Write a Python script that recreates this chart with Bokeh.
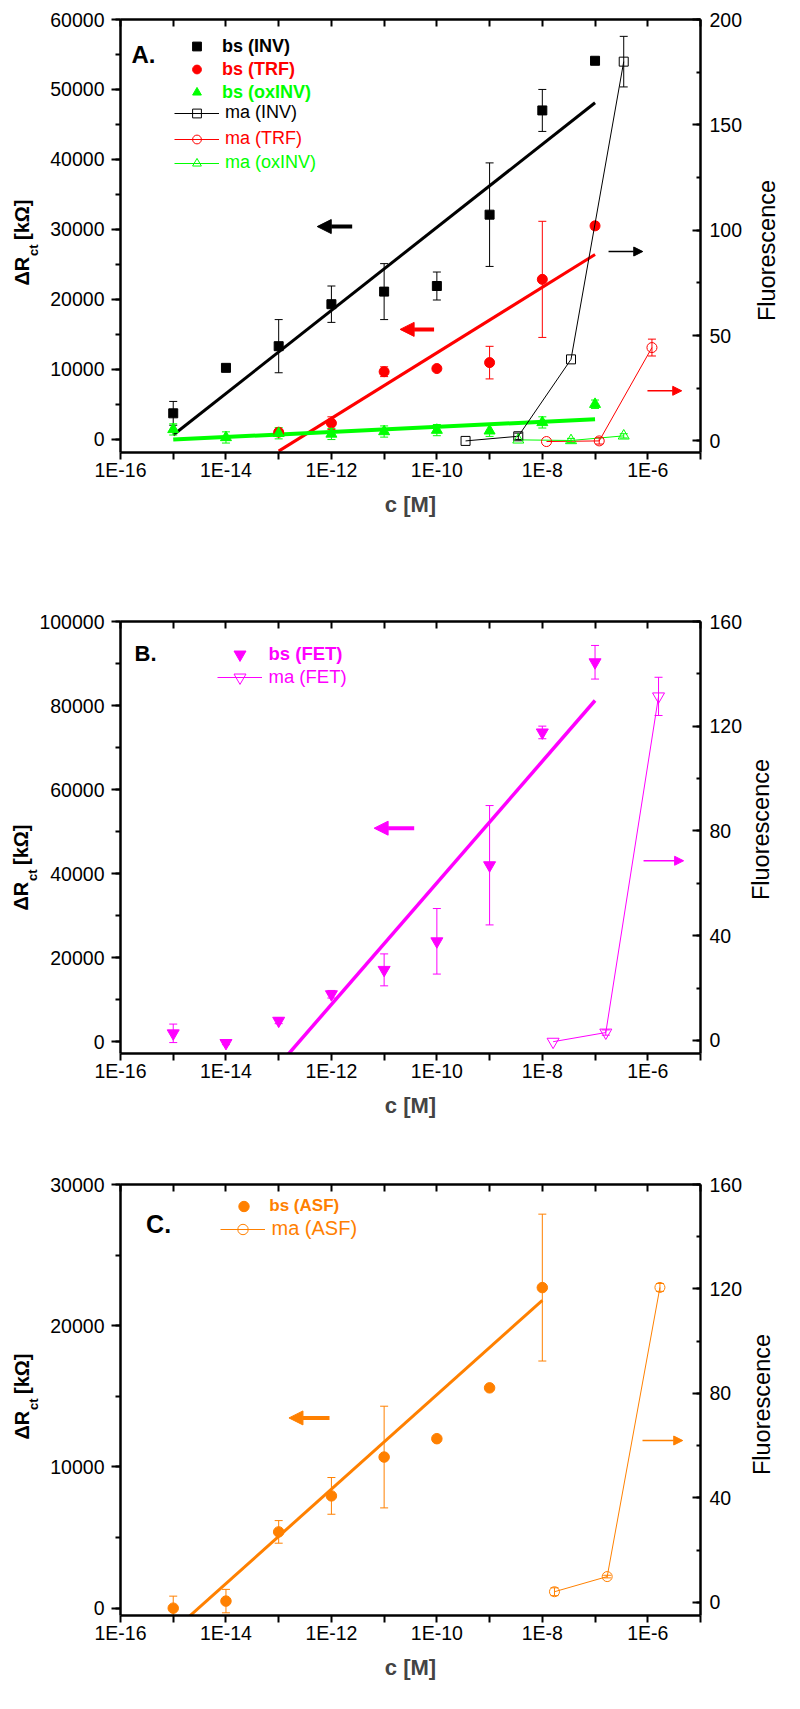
import math
from bokeh.plotting import figure
from bokeh.models import (Range1d, LinearAxis, LogAxis, FixedTicker, SingleIntervalTicker,
                          CustomJSTickFormatter, BasicTickFormatter, Label, Title, Legend,
                          LegendItem, Arrow, NormalHead)
from bokeh.layouts import column, row
from bokeh.embed import file_html
from bokeh.resources import INLINE

FONT = "Liberation Sans"
BLACK, RED, GREEN, MAGENTA, ORANGE = "#000000", "#ff0000", "#00ff00", "#ff00ff", "#ff8000"

# ---------------- data: panel A ----------------
conc_bs = [1e-15, 1e-14, 1e-13, 1e-12, 1e-11, 1e-10, 1e-9, 1e-8, 1e-7]
inv_bs = [3700, 10200, 13300, 19300, 21100, 21900, 32100, 47000, 54100]
inv_err = [1700, 0, 3800, 2600, 4000, 2000, 7400, 3000, 0]
conc_trf = [1e-13, 1e-12, 1e-11, 1e-10, 1e-9, 1e-8, 1e-7]
trf_bs = [1000, 2300, 9650, 10100, 10950, 22850, 30500]
trf_err = [400, 900, 700, 0, 2330, 8300, 500]
oxinv_bs = [1400, 250, 850, 750, 1100, 1300, 1200, 2400, 5000]
oxinv_err = [800, 800, 800, 800, 800, 800, 800, 800, 600]
fit_inv_conc = [1e-15, 1e-7]
fit_inv = [600, 48100]
fit_trf_conc = [1e-13, 1e-7]
fit_trf = [-1700, 26400]
fit_ox_conc = [1e-15, 1e-7]
fit_ox = [-50, 2860]
ma_inv_conc = [3.5e-10, 3.5e-9, 3.5e-8, 3.5e-7]
ma_inv = [0, 2.2, 38.7, 180]
ma_inv_err = [0, 1.5, 0, 12]
ma_trf_conc = [1.2e-8, 1.2e-7, 1.2e-6]
ma_trf = [-0.3, 0, 44.3]
ma_trf_err = [0, 1.5, 4]
ma_ox_conc = [3.5e-9, 3.5e-8, 3.5e-7]
ma_ox = [0.5, 0.2, 2.4]
ma_ox_err = [0, 1, 1]

# ---------------- data: panel B ----------------
fet_bs = [2000, -300, 5000, 11300, 17100, 23900, 42000, 73600, 90300]
fet_err = [2200, 400, 700, 900, 3800, 7800, 14200, 1500, 4000]
fit_fet_conc = [1e-13, 1e-7]
fit_fet = [-5600, 81200]
ma_fet_conc = [1.6e-8, 1.6e-7, 1.6e-6]
ma_fet = [-0.5, 3.0, 131.4]
ma_fet_err = [0, 1, 7.3]

# ---------------- data: panel C ----------------
conc_asf = [1e-15, 1e-14, 1e-13, 1e-12, 1e-11, 1e-10, 1e-9, 1e-8]
asf_bs = [0, 500, 5400, 7950, 10700, 12000, 15600, 22700]
asf_err = [850, 830, 800, 1300, 3600, 0, 0, 5200]
fit_asf_conc = [1e-15, 1e-8]
fit_asf = [-1600, 21800]
ma_asf_conc = [1.7e-8, 1.7e-7, 1.7e-6]
ma_asf = [4.1, 9.9, 120.6]
ma_asf_err = [1.5, 0.5, 1.5]

x_ticks = [10.0 ** e for e in range(-16, -4)]

FRAME_LEFT = 128
FW = 580
RB = 42                      # right border of the main figures
SIDE_W = 784 - (FRAME_LEFT - 8) - FW - RB   # width of the strip holding "Fluorescence"
SIDE_LEFT = 8 + (FRAME_LEFT - 8) + FW + RB


def errbars(p, xs, ys, es, color, rn=None):
    pts = [(x, y, e) for x, y, e in zip(xs, ys, es) if e > 0]
    if not pts:
        return
    kw = {"y_range_name": rn} if rn else {}
    x = [q[0] for q in pts]
    lo = [q[1] - q[2] for q in pts]
    hi = [q[1] + q[2] for q in pts]
    p.segment(x0=x, y0=lo, x1=x, y1=hi, line_color=color, line_width=1, **kw)
    p.scatter(x=x + x, y=lo + hi, marker="dash", size=8, line_color=color, line_width=1, **kw)


def make_panel(fig_top, frame_top, frame_h, fig_bottom, yl, yr, yl_int, yr_int):
    p = figure(frame_width=FW, frame_height=frame_h, x_axis_type="log",
               x_range=Range1d(1e-16, 1e-5), y_range=Range1d(*yl),
               min_border_left=FRAME_LEFT - 8, min_border_right=RB,
               min_border_top=frame_top - fig_top,
               min_border_bottom=fig_bottom - (frame_top + frame_h),
               output_backend="svg", toolbar_location=None)
    p.outline_line_color = None
    p.xgrid.visible = False
    p.ygrid.visible = False
    p.background_fill_color = "white"
    p.border_fill_color = "white"
    p.extra_y_ranges = {"right": Range1d(*yr)}

    xa = p.xaxis[0]
    xa.ticker = FixedTicker(ticks=x_ticks, minor_ticks=[])
    xa.formatter = CustomJSTickFormatter(code="""
        const e = Math.round(Math.log10(tick));
        return (e % 2 == 0) ? '1E' + e : ' ';
    """)
    xa.major_tick_out = 7
    xa.major_tick_in = 0
    xa.major_label_standoff = -1
    xa.axis_label = "c [M]"
    xa.axis_label_text_font = FONT
    xa.axis_label_text_font_size = "22px"
    xa.axis_label_text_font_style = "bold"
    xa.axis_label_standoff = 8

    ya = p.yaxis[0]
    ya.ticker = SingleIntervalTicker(interval=yl_int, num_minor_ticks=2)
    ya.formatter = BasicTickFormatter(use_scientific=False)
    ya.major_tick_out = 9
    ya.major_tick_in = 0
    ya.minor_tick_out = 5
    ya.minor_tick_in = 0
    ya.major_label_standoff = 7

    top = LogAxis(ticker=FixedTicker(ticks=x_ticks, minor_ticks=[]),
                  major_tick_in=7, major_tick_out=0, major_label_standoff=0)
    top.formatter = CustomJSTickFormatter(code="return ' ';")
    p.add_layout(top, "above")

    ra = LinearAxis(y_range_name="right",
                    ticker=SingleIntervalTicker(interval=yr_int, num_minor_ticks=2),
                    formatter=BasicTickFormatter(use_scientific=False),
                    major_tick_in=8, major_tick_out=0, minor_tick_in=4, minor_tick_out=0,
                    major_label_standoff=9)
    p.add_layout(ra, "right")

    for ax in [xa, ya, top, ra]:
        ax.axis_line_width = 2.5
        ax.axis_line_color = "black"
        ax.major_tick_line_width = 2
        ax.minor_tick_line_width = 2
        ax.major_tick_line_color = "black"
        ax.minor_tick_line_color = "black"
        ax.major_label_text_font = FONT
        ax.major_label_text_font_size = "19.5px"
        ax.major_label_text_color = "black"
    top.major_label_text_font_size = "8px"
    xa.minor_tick_line_color = None
    top.minor_tick_line_color = None
    return p


def side_strip(fig_h, frame_bottom, center_x_page, center_y_page):
    # narrow companion figure; its frame is aligned with the main frame by the row
    f = figure(width=SIDE_W, height=fig_h, x_axis_location=None, y_axis_location=None,
               toolbar_location=None, output_backend="svg", min_border=0,
               x_range=Range1d(0, 1), y_range=Range1d(0, 1))
    f.outline_line_color = None
    f.xgrid.visible = False
    f.ygrid.visible = False
    f.background_fill_color = "white"
    f.border_fill_color = "white"
    f.add_layout(Label(x=center_x_page - SIDE_LEFT, y=frame_bottom - center_y_page,
                       x_units="screen", y_units="screen", text="Fluorescence",
                       angle=90, angle_units="deg", text_font=FONT, text_font_size="23.5px",
                       text_color="black", text_align="center", text_baseline="middle"))
    return f


def ylabel(p, frame_bottom, center_y_page, s_ct=10, s_main=-24):
    # ΔR_ct [kΩ]: main text and the subscript as two left-side titles
    w1 = 29.5
    L = 86.0
    off0 = (frame_bottom - center_y_page) - L / 2
    ct = Title(text="ct", align="left", vertical_align="top", offset=off0 + w1, standoff=s_ct,
               text_font=FONT, text_font_size="13px", text_font_style="bold", text_color="black")
    p.add_layout(ct, "left")
    main = Title(text="ΔR\u00a0\u00a0\u00a0[kΩ]", align="left", vertical_align="bottom",
                 offset=off0, standoff=s_main,
                 text_font=FONT, text_font_size="20px", text_font_style="bold", text_color="black")
    p.add_layout(main, "left")


def panel_letter(p, text, x, y, size):
    p.add_layout(Label(x=x, y=y, x_units="screen", y_units="screen", text=text,
                       text_font=FONT, text_font_size=size, text_font_style="bold",
                       text_color="black", text_align="left", text_baseline="middle"))


def legend_item(p, label, renderers, color, bold, font_px, glyph_left, center_y,
                frame_bottom, H, standoff):
    lg = Legend(items=[LegendItem(label=label, renderers=renderers)],
                location=(glyph_left - FRAME_LEFT, frame_bottom - center_y - H / 2),
                glyph_width=45, glyph_height=H, label_height=H, label_standoff=standoff,
                padding=0, margin=0, spacing=0,
                background_fill_alpha=0, border_line_alpha=0,
                label_text_font=FONT, label_text_font_size=font_px,
                label_text_font_style="bold" if bold else "normal",
                label_text_color=color, label_text_baseline="middle")
    p.add_layout(lg)


def arrow(p, lx0, lx1, y, color, thick):
    if thick:
        head = NormalHead(size=14, fill_color=color, line_color=color, line_width=1)
        lw = 4
    else:
        head = NormalHead(size=9, fill_color=color, line_color=color, line_width=1)
        lw = 1.5
    p.add_layout(Arrow(end=head, x_start=10 ** lx0, y_start=y, x_end=10 ** lx1, y_end=y,
                       line_color=color, line_width=lw))


# ====================== Panel A ======================
pa = make_panel(8, 27, 433, 568, (-1900, 60000), (-5.5, 200), 10000, 50)
fa_bottom = 460
pa.line(fit_inv_conc, fit_inv, line_color=BLACK, line_width=3)
pa.line(fit_trf_conc, fit_trf, line_color=RED, line_width=3)
pa.line(fit_ox_conc, fit_ox, line_color=GREEN, line_width=4)
errbars(pa, conc_bs, inv_bs, inv_err, BLACK)
errbars(pa, conc_trf, trf_bs, trf_err, RED)
errbars(pa, conc_bs, oxinv_bs, oxinv_err, GREEN)
s_inv = pa.scatter(conc_bs, inv_bs, marker="square", size=9, color=BLACK)
s_trf = pa.scatter(conc_trf, trf_bs, marker="circle", size=10, color=RED)
s_ox = pa.scatter(conc_bs, oxinv_bs, marker="triangle", size=11, color=GREEN)

l_minv = pa.line(ma_inv_conc, ma_inv, line_color=BLACK, line_width=1, y_range_name="right")
l_mtrf = pa.line(ma_trf_conc, ma_trf, line_color=RED, line_width=1, y_range_name="right")
l_mox = pa.line(ma_ox_conc, ma_ox, line_color=GREEN, line_width=1, y_range_name="right")
errbars(pa, ma_inv_conc, ma_inv, ma_inv_err, BLACK, "right")
errbars(pa, ma_trf_conc, ma_trf, ma_trf_err, RED, "right")
errbars(pa, ma_ox_conc, ma_ox, ma_ox_err, GREEN, "right")
s_minv = pa.scatter(ma_inv_conc, ma_inv, marker="square", size=9, line_color=BLACK,
                    fill_color=None, line_width=1, y_range_name="right")
s_mtrf = pa.scatter(ma_trf_conc, ma_trf, marker="circle", size=10, line_color=RED,
                    fill_color=None, line_width=1, y_range_name="right")
s_mox = pa.scatter(ma_ox_conc, ma_ox, marker="triangle", size=11, line_color=GREEN,
                   fill_color=None, line_width=1, y_range_name="right")

arrow(pa, -11.606, -12.269, 30400, BLACK, True)
arrow(pa, -10.053, -10.697, 15700, RED, True)
arrow(pa, -6.744, -6.095, 26830, BLACK, False)
arrow(pa, -6.006, -5.356, 6920, RED, False)

legend_item(pa, "bs (INV)", [s_inv], BLACK, True, "18px", 182, 54.3, fa_bottom, 22, 3)
legend_item(pa, "bs (TRF)", [s_trf], RED, True, "18px", 182, 77.3, fa_bottom, 22, 3)
legend_item(pa, "bs (oxINV)", [s_ox], GREEN, True, "18px", 182, 100, fa_bottom, 22, 3)
legend_item(pa, "ma (INV)", [l_minv, s_minv], BLACK, False, "18px", 182, 120.7, fa_bottom, 22, 6)
legend_item(pa, "ma (TRF)", [l_mtrf, s_mtrf], RED, False, "18px", 182, 146.7, fa_bottom, 22, 6)
legend_item(pa, "ma (oxINV)", [l_mox, s_mox], GREEN, False, "18px", 182, 170.7, fa_bottom, 22, 6)
panel_letter(pa, "A.", 11, fa_bottom - 62, "24px")
ylabel(pa, fa_bottom, 250)
sa = side_strip(560, fa_bottom, 771.7, 258)

# ====================== Panel B ======================
pb = make_panel(568, 629, 432, 1130, (-2800, 100000), (-5, 160), 20000, 40)
fb_bottom = 1061
pb.line(fit_fet_conc, fit_fet, line_color=MAGENTA, line_width=3.5)
errbars(pb, conc_bs, fet_bs, fet_err, MAGENTA)
s_fet = pb.scatter(conc_bs, fet_bs, marker="inverted_triangle", size=12, color=MAGENTA)
l_mfet = pb.line(ma_fet_conc, ma_fet, line_color=MAGENTA, line_width=1, y_range_name="right")
errbars(pb, ma_fet_conc, ma_fet, ma_fet_err, MAGENTA, "right")
s_mfet = pb.scatter(ma_fet_conc, ma_fet, marker="inverted_triangle", size=12, line_color=MAGENTA,
                    fill_color=None, line_width=1, y_range_name="right")
arrow(pb, -10.43, -11.19, 50820, MAGENTA, True)
arrow(pb, -6.08, -5.32, 43060, MAGENTA, False)
legend_item(pb, "bs (FET)", [s_fet], MAGENTA, True, "18.5px", 224.5, 661.7, fb_bottom, 30, 7)
legend_item(pb, "ma (FET)", [l_mfet, s_mfet], MAGENTA, False, "18.5px", 224.5, 685, fb_bottom, 30, 7)
panel_letter(pb, "B.", 14, fb_bottom - 660.7, "22px")
ylabel(pb, fb_bottom, 875, s_ct=-11, s_main=-3)
sb = side_strip(562, fb_bottom, 765, 837)

# ====================== Panel C ======================
pc = make_panel(1130, 1192, 431, 1701, (-520, 30000), (-5, 160), 10000, 40)
fc_bottom = 1623
pc.line(fit_asf_conc, fit_asf, line_color=ORANGE, line_width=3)
errbars(pc, conc_asf, asf_bs, asf_err, ORANGE)
s_asf = pc.scatter(conc_asf, asf_bs, marker="circle", size=10.5, color=ORANGE)
l_masf = pc.line(ma_asf_conc, ma_asf, line_color=ORANGE, line_width=1, y_range_name="right")
errbars(pc, ma_asf_conc, ma_asf, ma_asf_err, ORANGE, "right")
s_masf = pc.scatter(ma_asf_conc, ma_asf, marker="circle", size=10, line_color=ORANGE,
                    fill_color=None, line_width=1, y_range_name="right")
arrow(pc, -12.036, -12.805, 13470, ORANGE, True)
arrow(pc, -6.10, -5.337, 11870, ORANGE, False)
legend_item(pc, "bs (ASF)", [s_asf], ORANGE, True, "17px", 229.3, 1214.3, fc_bottom, 26, 3)
legend_item(pc, "ma (ASF)", [l_masf, s_masf], ORANGE, False, "20px", 227.5, 1236.7, fc_bottom, 26, 7)
panel_letter(pc, "C.", 25.6, fc_bottom - 1231.7, "25px")
ylabel(pc, fc_bottom, 1404)
sc = side_strip(571, fc_bottom, 766.7, 1412)

layout = column(row(pa, sa), row(pb, sb), row(pc, sc))
open("out.html", "w").write(file_html(layout, INLINE))
